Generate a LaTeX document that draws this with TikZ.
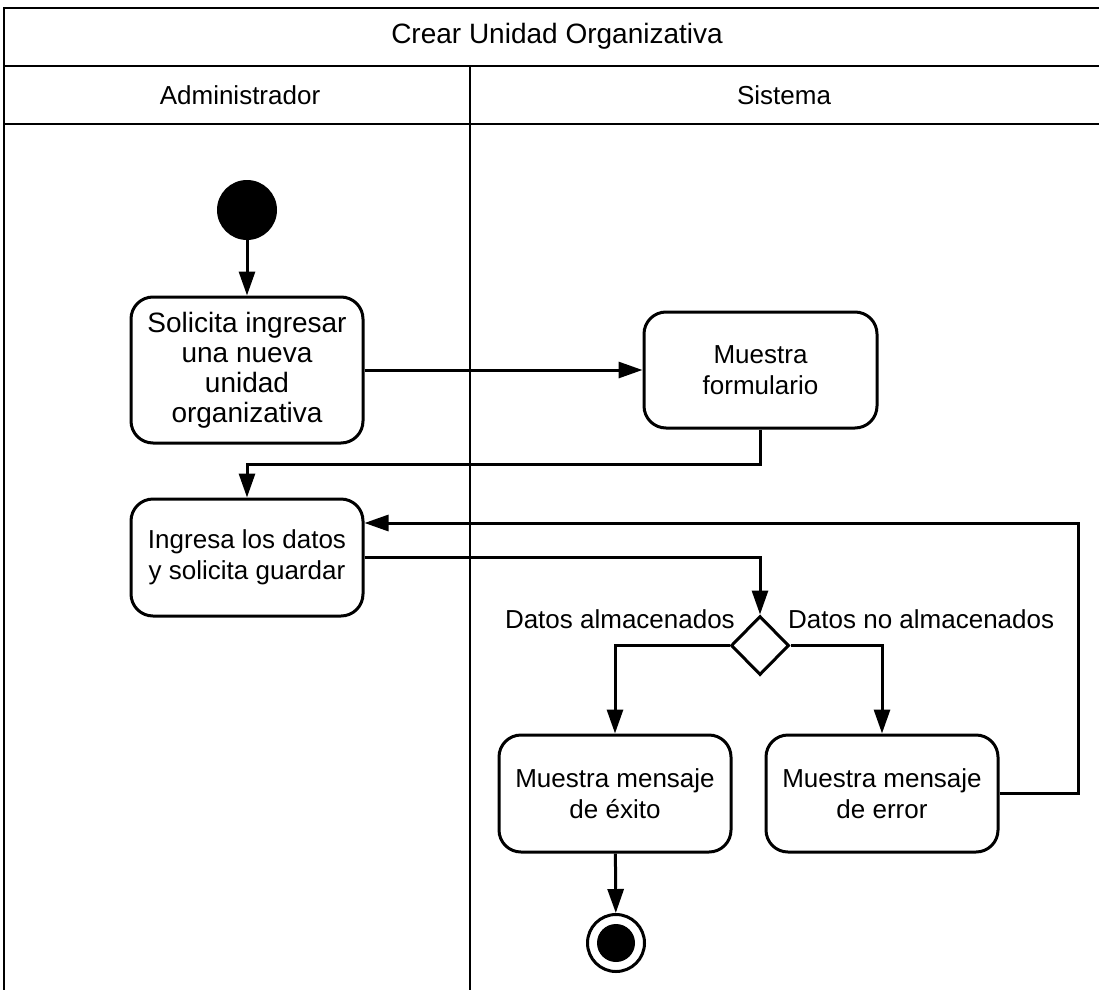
\documentclass[tikz,border=0pt]{standalone}
\usepackage{fontspec}
\setmainfont{Liberation Sans}
\usetikzlibrary{shapes.geometric,arrows.meta}

\begin{document}
\begin{tikzpicture}
[every node/.style={inner sep=0pt},
 act/.style={rectangle, rounded corners=22pt, minimum width=232pt, minimum height=117pt, line width=3pt, draw=black, align=center, font=\fontsize{26}{30.5}\selectfont},
 lbl/.style={font=\fontsize{26}{30}\selectfont},
 flow/.style={line width=3pt, ->, color=black},
 lane/.style={line width=2.5pt, color=black},
 >={Triangle[length=24pt,width=16pt]}]
\useasboundingbox (0pt,0pt) rectangle (1099pt,-990pt);
\draw [lane] (1099pt,-8pt) -- (4pt,-8pt) -- (4pt,-990pt);
\draw [lane] (4pt,-66pt) -- (1099pt,-66pt);
\draw [lane] (4pt,-124pt) -- (1099pt,-124pt);
\draw [lane] (470pt,-66pt) -- (470pt,-990pt);
\node (title) [lbl, font=\fontsize{28}{32}\selectfont] at (557.0pt, -36.0pt) {Crear Unidad Organizativa};
\node (admin) [lbl] at (240.0pt, -95.0pt) {Administrador};
\node (sistema) [lbl] at (784.0pt, -95.0pt) {Sistema};
\node (start) [circle, minimum size=60.0pt, fill=black] at (247.0pt, -210.0pt) {};
\node (solicita) [act, minimum height=146.0pt, font=\fontsize{28}{30}\selectfont] at (247.0pt, -370.0pt) {Solicita ingresar\\una nueva\\unidad\\organizativa};
\node (formulario) [act, minimum width=233.0pt, minimum height=116.0pt] at (760.5pt, -370.0pt) {Muestra\\formulario};
\node (ingresa) [act] at (247.0pt, -557.5pt) {Ingresa los datos\\y solicita guardar};
\node (decision) [diamond, minimum width=58.0pt, minimum height=59.0pt, line width=3pt, draw=black] at (760.0pt, -645.5pt) {};
\node (okl) [lbl, anchor=base east] at (735.0pt, -628.0pt) {Datos almacenados};
\node (errl) [lbl, anchor=base west] at (788.0pt, -628.0pt) {Datos no almacenados};
\node (exito) [act] at (615.0pt, -793.5pt) {Muestra mensaje\\de éxito};
\node (error) [act] at (882.0pt, -793.5pt) {Muestra mensaje\\de error};
\node (end) [circle, minimum size=57.0pt, line width=3pt, draw=black] at (616.0pt, -943.0pt) {};
\node (endin) [circle, minimum size=38.0pt, fill=black] at (616.0pt, -943.0pt) {};
\coordinate (back) at (1078.0pt, -523.0pt);
\draw [flow] (start) to (solicita);
\draw [flow] (solicita) to (formulario);
\draw [flow] (formulario.south) -- ++(0pt,-35.0pt) -| (ingresa.north);
\draw [flow] (ingresa.east) -| (decision.north);
\draw [flow] (decision.west) -| (exito.north);
\draw [flow] (decision.east) -| (error.north);
\draw [flow] (error.east) -| (back) -- (ingresa.east |- back);
\draw [flow] (exito) to (end);
\end{tikzpicture}
\end{document}
